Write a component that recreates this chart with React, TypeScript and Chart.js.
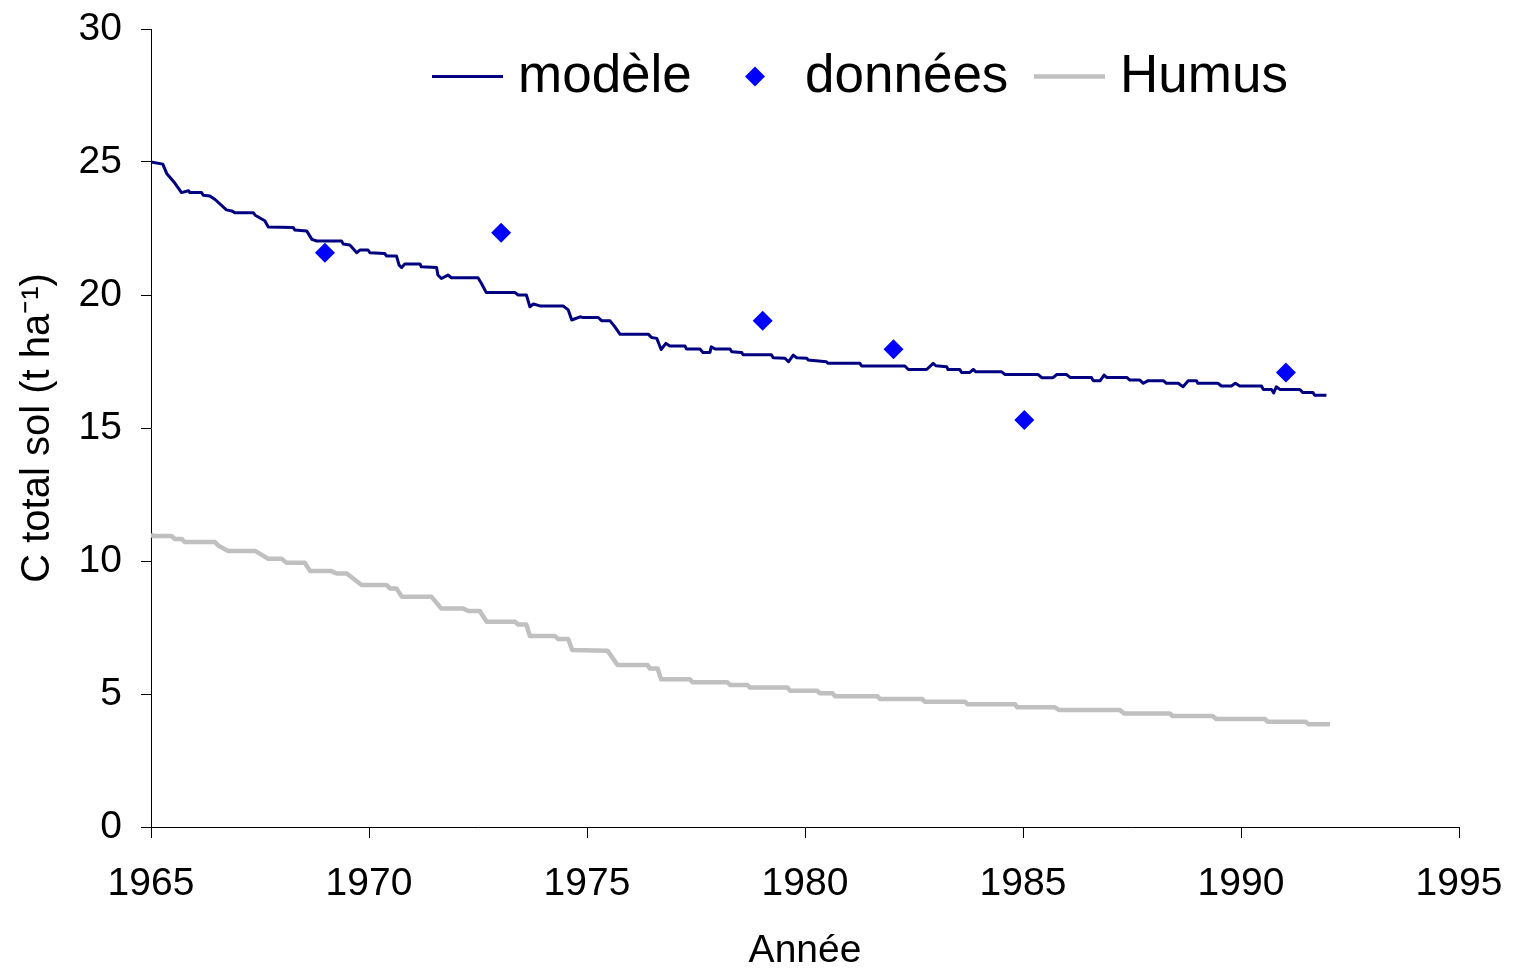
import React, { useEffect, useRef } from "react";
import { Chart, registerables } from "chart.js";

Chart.register(...registerables);

const seriesLabels = ["modèle", "données", "Humus"];
const xTickValues = [1965, 1970, 1975, 1980, 1985, 1990, 1995];
const yTickValues = [0, 5, 10, 15, 20, 25, 30];
const xTitle = "Année";
const yTitle = "C total sol (t ha⁻¹)";

const modelYears = [
  1965.0, 1965.27, 1965.36, 1965.55, 1965.7, 1965.86, 1965.89, 1966.16, 1966.2, 1966.35,
  1966.47, 1966.73, 1966.85, 1966.93, 1967.35, 1967.39, 1967.61, 1967.69, 1968.26, 1968.3,
  1968.57, 1968.69, 1968.8, 1969.37, 1969.41, 1969.56, 1969.72, 1969.79, 1969.98, 1970.02,
  1970.36, 1970.4, 1970.63, 1970.69, 1970.75, 1970.82, 1971.17, 1971.2, 1971.55, 1971.58,
  1971.66, 1971.81, 1971.89, 1972.5, 1972.58, 1972.69, 1973.35, 1973.42, 1973.61, 1973.69,
  1973.77, 1973.92, 1974.45, 1974.57, 1974.65, 1974.84, 1974.91, 1975.26, 1975.34, 1975.53,
  1975.64, 1975.76, 1976.41, 1976.48, 1976.6, 1976.66, 1976.7, 1976.81, 1976.9, 1977.25,
  1977.28, 1977.59, 1977.66, 1977.82, 1977.85, 1977.94, 1978.28, 1978.32, 1978.55, 1978.58,
  1979.23, 1979.27, 1979.54, 1979.62, 1979.73, 1979.81, 1980.04, 1980.07, 1980.49, 1980.53,
  1981.26, 1981.3, 1982.29, 1982.37, 1982.79, 1982.94, 1983.0, 1983.25, 1983.28, 1983.55,
  1983.59, 1983.78, 1983.86, 1983.92, 1984.51, 1984.59, 1985.35, 1985.43, 1985.69, 1985.77,
  1986.0, 1986.08, 1986.57, 1986.61, 1986.77, 1986.86, 1986.92, 1987.38, 1987.45, 1987.68,
  1987.76, 1987.87, 1988.22, 1988.29, 1988.56, 1988.67, 1988.79, 1988.98, 1989.01, 1989.47,
  1989.55, 1989.78, 1989.87, 1989.97, 1990.47, 1990.51, 1990.7, 1990.75, 1990.81, 1990.89,
  1991.35, 1991.42, 1991.65, 1991.69, 1991.96,
];
const modelValues = [
  25.0, 24.92, 24.57, 24.2, 23.85, 23.92, 23.85, 23.85, 23.75, 23.72,
  23.59, 23.2, 23.16, 23.09, 23.09, 23.0, 22.79, 22.56, 22.54, 22.44,
  22.41, 22.09, 22.03, 22.03, 21.92, 21.88, 21.59, 21.69, 21.69, 21.59,
  21.56, 21.47, 21.47, 21.12, 21.03, 21.17, 21.17, 21.06, 21.03, 20.75,
  20.62, 20.75, 20.65, 20.65, 20.43, 20.09, 20.09, 20.0, 20.0, 19.56,
  19.66, 19.59, 19.59, 19.44, 19.06, 19.18, 19.15, 19.15, 19.03, 19.03,
  18.8, 18.52, 18.52, 18.4, 18.37, 18.12, 17.95, 18.18, 18.08, 18.08,
  17.97, 17.97, 17.84, 17.84, 18.05, 17.97, 17.97, 17.87, 17.84, 17.75,
  17.75, 17.64, 17.62, 17.49, 17.74, 17.64, 17.62, 17.56, 17.49, 17.43,
  17.43, 17.33, 17.33, 17.2, 17.2, 17.43, 17.34, 17.3, 17.2, 17.2,
  17.09, 17.09, 17.2, 17.11, 17.11, 17.01, 17.01, 16.89, 16.89, 17.01,
  17.01, 16.9, 16.9, 16.78, 16.78, 16.99, 16.9, 16.9, 16.8, 16.8,
  16.68, 16.78, 16.78, 16.68, 16.68, 16.55, 16.78, 16.78, 16.68, 16.68,
  16.58, 16.58, 16.68, 16.58, 16.58, 16.45, 16.45, 16.32, 16.55, 16.45,
  16.45, 16.33, 16.33, 16.23, 16.23,
];

const dataYears = [1968.99, 1973.03, 1979.03, 1982.03, 1985.03, 1991.03];
const dataValues = [21.59, 22.34, 19.03, 17.96, 15.3, 17.09];

const humusYears = [
  1965.0, 1965.04, 1965.47, 1965.55, 1965.7, 1965.78, 1966.47, 1966.54, 1966.77, 1967.39,
  1967.69, 1968.0, 1968.11, 1968.53, 1968.65, 1969.14, 1969.26, 1969.49, 1969.83, 1970.4,
  1970.48, 1970.63, 1970.75, 1971.43, 1971.66, 1972.16, 1972.28, 1972.54, 1972.7, 1973.35,
  1973.42, 1973.61, 1973.69, 1974.26, 1974.34, 1974.57, 1974.66, 1975.47, 1975.7, 1976.39,
  1976.44, 1976.62, 1976.7, 1977.36, 1977.42, 1978.22, 1978.28, 1978.68, 1978.74, 1979.6,
  1979.66, 1980.28, 1980.34, 1980.63, 1980.69, 1981.66, 1981.72, 1982.69, 1982.75, 1983.67,
  1983.73, 1984.82, 1984.87, 1985.73, 1985.83, 1987.22, 1987.32, 1988.37, 1988.43, 1989.35,
  1989.43, 1990.55, 1990.61, 1991.47, 1991.56, 1992.04,
];
const humusValues = [
  11.02, 10.94, 10.94, 10.83, 10.83, 10.71, 10.71, 10.58, 10.38, 10.38,
  10.08, 10.08, 9.93, 9.93, 9.62, 9.62, 9.53, 9.53, 9.1, 9.1,
  8.97, 8.97, 8.66, 8.66, 8.21, 8.21, 8.12, 8.12, 7.72, 7.72,
  7.61, 7.61, 7.18, 7.18, 7.07, 7.07, 6.65, 6.63, 6.09, 6.09,
  5.96, 5.96, 5.55, 5.55, 5.44, 5.44, 5.34, 5.34, 5.24, 5.24,
  5.12, 5.12, 5.03, 5.03, 4.92, 4.92, 4.81, 4.81, 4.71, 4.71,
  4.61, 4.61, 4.5, 4.5, 4.4, 4.4, 4.27, 4.27, 4.17, 4.17,
  4.06, 4.06, 3.96, 3.96, 3.86, 3.86,
];

const FONT_FAMILY = "'Liberation Sans', Arial, Helvetica, sans-serif";

// legend item positions, offsets (px) from the left edge of the plot area
const legendMarkerX = [281, 604, 883];
const legendTextX = [367, 654, 969];

const legendPlugin = {
  id: "insideLegend",
  afterDraw(chart: any) {
    const ctx = chart.ctx;
    const area = chart.chartArea;
    const cy = area.top + 47.5;
    ctx.save();
    ctx.font = `53px ${FONT_FAMILY}`;
    ctx.textBaseline = "alphabetic";
    ctx.textAlign = "left";
    const baseline = cy + 15;
    chart.data.datasets.forEach((ds: any, i: number) => {
      const mx = area.left + legendMarkerX[i];
      if (ds.showLine) {
        ctx.strokeStyle = ds.borderColor;
        ctx.lineWidth = ds.borderWidth;
        ctx.beginPath();
        ctx.moveTo(mx, cy);
        ctx.lineTo(mx + 71, cy);
        ctx.stroke();
      } else {
        const r = 10;
        ctx.fillStyle = ds.backgroundColor;
        ctx.beginPath();
        ctx.moveTo(mx - r, cy);
        ctx.lineTo(mx, cy - r);
        ctx.lineTo(mx + r, cy);
        ctx.lineTo(mx, cy + r);
        ctx.closePath();
        ctx.fill();
      }
      ctx.fillStyle = "#000";
      ctx.fillText(ds.label, area.left + legendTextX[i], baseline);
    });
    ctx.restore();
  },
};

const zeroPadding = (s: any) => {
  s.paddingLeft = 0;
  s.paddingRight = 0;
  s.paddingTop = 0;
  s.paddingBottom = 0;
};

export default function App() {
  const canvasRef = useRef<HTMLCanvasElement | null>(null);

  useEffect(() => {
    const canvas = canvasRef.current;
    if (!canvas) return;
    const axisFont = { family: FONT_FAMILY, size: 39 };
    const chart = new Chart(canvas, {
      type: "scatter",
      data: {
        datasets: [
          {
            label: seriesLabels[0],
            data: modelYears.map((x, i) => ({ x, y: modelValues[i] })),
            showLine: true,
            borderColor: "#000080",
            backgroundColor: "#000080",
            borderWidth: 3,
            pointRadius: 0,
            borderJoinStyle: "round",
          },
          {
            label: seriesLabels[1],
            data: dataYears.map((x, i) => ({ x, y: dataValues[i] })),
            showLine: false,
            pointStyle: "rectRot",
            pointRadius: 10,
            backgroundColor: "#0000FF",
            borderColor: "#0000FF",
            borderWidth: 0,
          },
          {
            label: seriesLabels[2],
            data: humusYears.map((x, i) => ({ x, y: humusValues[i] })),
            showLine: true,
            borderColor: "#C0C0C0",
            backgroundColor: "#C0C0C0",
            borderWidth: 4.5,
            pointRadius: 0,
            borderJoinStyle: "round",
          },
        ],
      },
      options: {
        responsive: false,
        animation: false,
        devicePixelRatio: 1,
        layout: { padding: { left: 0, top: 29, right: 55, bottom: 0 } },
        plugins: {
          legend: { display: false },
          tooltip: { enabled: false },
        },
        scales: {
          x: {
            type: "linear",
            min: xTickValues[0],
            max: xTickValues[xTickValues.length - 1],
            afterBuildTicks: (s: any) => {
              s.ticks = xTickValues.map((v) => ({ value: v }));
            },
            afterFit: (s: any) => {
              s.height = 145;
              zeroPadding(s);
            },
            ticks: {
              color: "#000",
              font: axisFont,
              padding: 23,
              maxRotation: 0,
              callback: (v: any) => String(v),
            },
            grid: {
              drawOnChartArea: false,
              drawTicks: true,
              tickLength: 11,
              color: "#000",
              lineWidth: 1,
            },
            border: { color: "#000", width: 1 },
            title: {
              display: true,
              text: xTitle,
              color: "#000",
              font: { family: FONT_FAMILY, size: 39, lineHeight: 1.05 },
              padding: { top: 0, bottom: 0 },
            },
          },
          y: {
            type: "linear",
            min: yTickValues[0],
            max: yTickValues[yTickValues.length - 1],
            afterBuildTicks: (s: any) => {
              s.ticks = yTickValues.map((v) => ({ value: v }));
            },
            afterFit: (s: any) => {
              s.width = 151;
              zeroPadding(s);
            },
            ticks: {
              color: "#000",
              font: axisFont,
              padding: 19,
              callback: (v: any) => String(v),
            },
            grid: {
              drawOnChartArea: false,
              drawTicks: true,
              tickLength: 10,
              color: "#000",
              lineWidth: 1,
            },
            border: { color: "#000", width: 1 },
            title: {
              display: true,
              text: yTitle,
              color: "#000",
              font: { family: FONT_FAMILY, size: 40 },
              padding: { top: 14, bottom: 0 },
            },
          },
        },
      },
      plugins: [legendPlugin],
    } as any);
    return () => chart.destroy();
  }, []);

  return (
    <div style={{ position: "fixed", left: 0, top: 0, width: 1514, height: 972, background: "#fff" }}>
      <canvas ref={canvasRef} width={1514} height={972} style={{ display: "block" }} />
    </div>
  );
}
